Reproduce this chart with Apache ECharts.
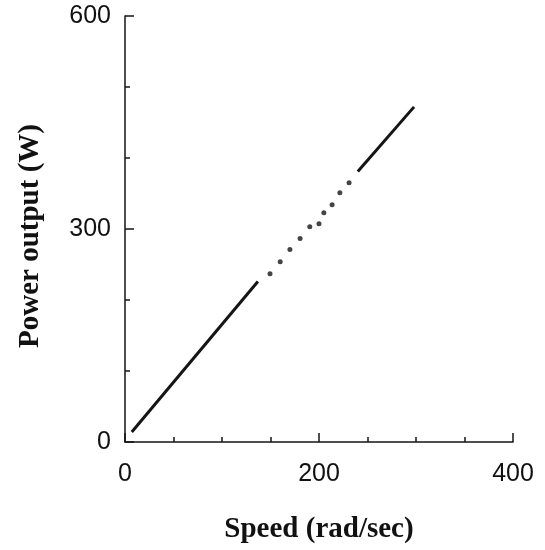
<!DOCTYPE html>
<html>
<head>
<meta charset="utf-8">
<script src="https://cdn.jsdelivr.net/npm/echarts@6/dist/echarts.min.js"></script>
<style>
  html, body { margin: 0; padding: 0; background: #fff; }
  #chart { width: 545px; height: 550px; }
</style>
</head>
<body>
<div id="chart"></div>
<script>
// Power output versus shaft speed: measured solid runs joined by sparse points
const lowRun = [[7, 14], [137, 226]];
const gapPoints = [
  [149.5, 237], [160, 254], [170, 271], [180.5, 286.5], [190.5, 303],
  [200, 307.5], [205, 323], [213.5, 334], [221.5, 351], [231, 365]
];
const highRun = [[240, 381], [298, 472]];

const xTicks = { min: 0, max: 400, step: 200 };
const yTicks = { min: 0, max: 600, step: 300 };

const ink = '#151515';
const chart = echarts.init(document.getElementById('chart'), null, { renderer: 'canvas' });

const axisCommon = {
  axisLine: { show: true, lineStyle: { color: ink, width: 1.5 } },
  axisTick: { show: true, inside: true, length: 9, lineStyle: { color: ink, width: 1.5 } },
  minorTick: { show: true, length: 5, lineStyle: { color: ink, width: 1.5 } },
  splitLine: { show: false },
  minorSplitLine: { show: false },
  axisLabel: { color: '#111', fontFamily: 'Liberation Sans, Arial, sans-serif', fontSize: 25 },
  nameTextStyle: { color: '#111', fontFamily: 'Liberation Serif, Times New Roman, serif', fontWeight: 'bold', fontSize: 29 }
};

chart.setOption({
  animation: false,
  backgroundColor: '#ffffff',
  grid: { left: 125, right: 32, top: 16, bottom: 108, containLabel: false },
  xAxis: Object.assign({}, axisCommon, {
    type: 'value',
    min: xTicks.min, max: xTicks.max, interval: xTicks.step,
    minorTick: Object.assign({}, axisCommon.minorTick, { splitNumber: 4 }),
    axisLabel: Object.assign({}, axisCommon.axisLabel, { margin: 20 }),
    name: 'Speed (rad/sec)',
    nameLocation: 'middle',
    nameGap: 73
  }),
  yAxis: Object.assign({}, axisCommon, {
    type: 'value',
    min: yTicks.min, max: yTicks.max, interval: yTicks.step,
    minorTick: Object.assign({}, axisCommon.minorTick, { splitNumber: 3 }),
    axisLabel: Object.assign({}, axisCommon.axisLabel, { margin: 14 }),
    name: 'Power output (W)',
    nameLocation: 'middle',
    nameGap: 80,
    nameTextStyle: Object.assign({}, axisCommon.nameTextStyle, { padding: [0, 14, 0, 0] })
  }),
  series: [
    {
      type: 'line', data: lowRun, showSymbol: false, symbol: 'none',
      lineStyle: { color: ink, width: 3 }
    },
    {
      type: 'scatter', data: gapPoints, symbol: 'circle', symbolSize: 5,
      itemStyle: { color: ink }
    },
    {
      type: 'line', data: highRun, showSymbol: false, symbol: 'none',
      lineStyle: { color: ink, width: 3 }
    }
  ]
});
</script>
</body>
</html>
